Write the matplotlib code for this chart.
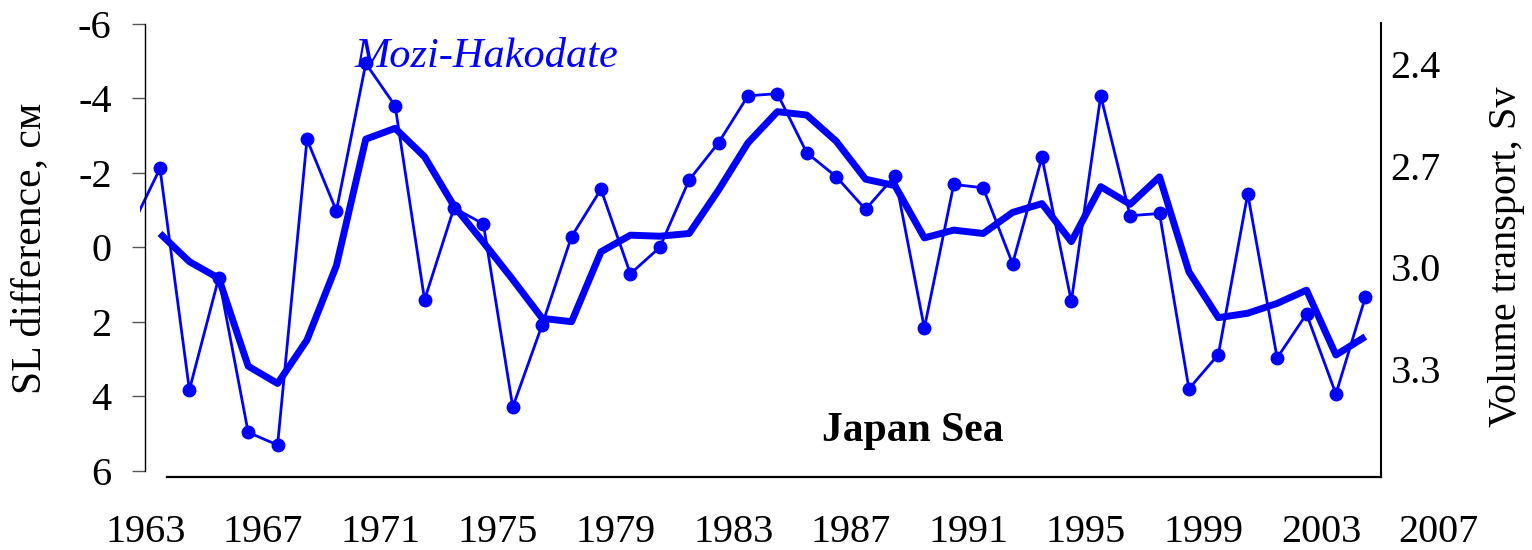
import numpy as np
import matplotlib
matplotlib.use('Agg')
import matplotlib.pyplot as plt

plt.rcParams['font.family'] = ['Liberation Serif', 'DejaVu Serif']

# ---- data ----
sl_years = list(range(1962, 2005))
sl_diff = [-0.49, -2.12, 3.83, 0.81, 4.97, 5.31, -2.90, -0.98, -4.94, -3.80,
           1.41, -1.06, -0.63, 4.29, 2.08, -0.29, -1.56, 0.71, 0.00, -1.81,
           -2.81, -4.07, -4.13, -2.54, -1.90, -1.02, -1.92, 2.17, -1.69, -1.60,
           0.44, -2.42, 1.45, -4.07, -0.85, -0.91, 3.80, 2.88, -1.44, 2.97,
           1.79, 3.94, 1.34]
vt_years = list(range(1963, 2005))
transport = [2.900, 2.983, 3.032, 3.291, 3.342, 3.214, 2.995, 2.622, 2.590, 2.674,
             2.819, 2.926, 3.036, 3.150, 3.160, 2.954, 2.905, 2.908, 2.900, 2.772,
             2.633, 2.541, 2.551, 2.628, 2.740, 2.759, 2.913, 2.890, 2.900, 2.838,
             2.812, 2.924, 2.762, 2.814, 2.733, 3.013, 3.148, 3.135, 3.106, 3.067,
             3.258, 3.204]
x_ticks = list(range(1963, 2008, 4))
left_ticks = [-6, -4, -2, 0, 2, 4, 6]
right_ticks = [2.4, 2.7, 3.0, 3.3]
right_labels = ['2.4', '2.7', '3.0', '3.3']

BLUE = '#0000ff'
W, H = 1532, 550
fig = plt.figure(figsize=(W / 100, H / 100), dpi=100)


def fx(px):
    return px / W


def fy(py):
    return 1 - py / H


ax = fig.add_axes([fx(140), fy(470.7), fx(1440) - fx(140), fy(24) - fy(470.7)])
ax.set_xlim(1962.82, 2007.04)
ax.set_ylim(6, -6)
ax2 = ax.twinx()
ax2.set_ylim(3.599, 2.2827)

# annual values plotted at mid-year
sl_x = np.array(sl_years) + 0.5
vt_x = np.array(vt_years) + 0.5

ax.plot(sl_x, sl_diff, color=BLUE, lw=2.0, marker='o', ms=9, mec=BLUE, mfc=BLUE)
ax2.plot(vt_x, transport, color=BLUE, lw=5.0, solid_joinstyle='round', solid_capstyle='butt')

# spines
for s in ['top', 'right']:
    ax.spines[s].set_visible(False)
for s in ['top', 'left', 'bottom']:
    ax2.spines[s].set_visible(False)
ax.spines['left'].set_position(('data', 1963))
ax.spines['left'].set_linewidth(1.0)
ax.spines['bottom'].set_position(('outward', 4.5))
ax.spines['bottom'].set_bounds(1963.73, 2005.05)
ax.spines['bottom'].set_linewidth(1.6)
ax2.spines['right'].set_position(('data', 2005.05))
ax2.spines['right'].set_bounds(2.2806, 3.6169)
ax2.spines['right'].set_linewidth(1.5)

# ticks
ax.set_yticks(left_ticks)
ax.set_yticklabels([str(t) for t in left_ticks])
ax.tick_params(axis='y', direction='out', length=9.4, width=1.0, color='#555555',
               pad=14.8, labelsize=29)
ax.set_xticks(x_ticks)
ax.set_xticklabels([str(t) for t in x_ticks])
ax.tick_params(axis='x', length=0, pad=27.0, labelsize=29)
ax2.set_yticks(right_ticks)
ax2.set_yticklabels(right_labels)
ax2.tick_params(axis='y', length=0, pad=6.5, labelsize=29)

# labels and annotations
fig.text(fx(30), fy(248.5), 'SL difference, см', rotation=90, ha='center',
         va='center', fontsize=30)
fig.text(fx(1506.7), fy(256.7), 'Volume transport, Sv', rotation=90, ha='center',
         va='center', fontsize=29)
fig.text(fx(355), fy(66.7), 'Mozi-Hakodate', color=BLUE, style='italic',
         fontsize=30.5, ha='left', va='baseline')
fig.text(fx(821.7), fy(441.5), 'Japan Sea', color='black', weight='bold',
         fontsize=30, ha='left', va='baseline')

fig.savefig('out.png', dpi=100)
